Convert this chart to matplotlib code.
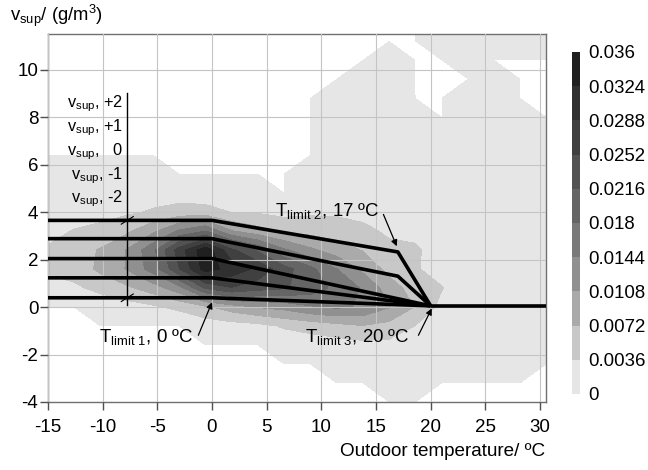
import numpy as np
import matplotlib
matplotlib.use('Agg')
import matplotlib.pyplot as plt
from matplotlib.patches import Rectangle

plt.rcParams['font.family'] = ['Liberation Sans', 'DejaVu Sans']
plt.rcParams['axes.unicode_minus'] = False
plt.rcParams['mathtext.default'] = 'regular'

# ---------------- data ----------------
# grid of outdoor temperature (x) and supply moisture (y) for the density map
temp_grid = [-15.0, -12.6, -10.2, -7.8, -5.4, -3.0, -0.6, 1.8, 4.2, 6.6,
             9.0, 11.4, 13.8, 16.2, 18.6, 21.0, 23.4, 25.8, 28.2, 30.6]
vsup_grid = [-4.0, -3.2, -2.4, -1.6, -0.8, 0.0, 0.8, 1.6, 2.4, 3.2, 4.0,
             4.8, 5.6, 6.4, 7.2, 8.0, 8.8, 9.6, 10.4, 11.2, 12.0]
# density values in units of 1e-3 (rows = vsup_grid, columns = temp_grid)
density_e3 = [
    [0, 0, 0, 0, 0, 0, 0, 0, 0, 0, 0, 0, 0, 0, 0, 0, 0, 0, 0, 0],
    [0, 0, 0, 0, 0, 0, 0, 0, 0, 0, 0, 0, 0, 0.8, 1, 0, 0, 0, 0, 0],
    [0, 0, 0, 0, 0, 0, 0, 0, 0, 0, 0, 1, 1, 1.5, 1.5, 0.8, 0.8, 0.6, 0.5, 0],
    [0, 0, 0, 0, 0, 0, 0, 0, 0, 1.2, 1.5, 2, 2.5, 2.5, 2, 1, 1, 0.8, 0.6, 0.5],
    [0, 0, 0, 0, 0, 0, 1.5, 2, 2.5, 4, 5, 6, 7, 6, 3.5, 1.5, 1, 0.8, 0.6, 0.5],
    [0, 0, 1.5, 2, 3, 4.5, 6.5, 9, 11, 12, 14, 15, 14, 11, 7, 2.5, 1.2, 1, 0.8, 0.6],
    [2.5, 3, 4.5, 6.5, 9, 13, 22, 25, 23, 22, 20, 17, 14, 9, 5.5, 3.8, 1.2, 1, 0.8, 0.6],
    [4, 5, 8, 11, 16, 25, 34, 31, 28, 23, 19, 14.5, 10, 6, 4, 2, 1, 0.8, 0.6, 0.5],
    [4, 5.5, 7.5, 11, 17, 27, 35, 26, 21, 15, 11.5, 9, 7, 4.5, 4.2, 1.5, 1, 0.8, 0.6, 0.5],
    [2.5, 3.8, 4.5, 6.5, 10, 15, 18, 11, 8.5, 6.5, 6, 5.5, 4.5, 3, 2.5, 1.2, 1, 0.8, 0.6, 0.5],
    [1.5, 2, 2.5, 3, 4, 5, 5, 3.5, 3.2, 2.5, 3, 3, 2.5, 2, 1.5, 1, 1, 0.8, 0.6, 0.5],
    [1, 1.2, 1.5, 1.5, 2, 2, 1.5, 1.5, 1.2, 0, 2, 2, 2, 1.5, 1.2, 0.8, 0.8, 0.7, 0.6, 0.5],
    [0.5, 0.6, 0.8, 0.8, 1, 0, 0, 0, 0, 0, 1.5, 1.5, 1.5, 1.2, 1, 0, 0.8, 0.7, 0.6, 0.5],
    [0, 0, 0, 0, 0, 0, 0, 0, 0, 0, 0, 1, 1, 1, 1, 0, 0.8, 0.7, 0.6, 0.5],
    [0, 0, 0, 0, 0, 0, 0, 0, 0, 0, 0, 1, 1, 1, 0.8, 0.5, 0.8, 0.7, 0.5, 0.4],
    [0, 0, 0, 0, 0, 0, 0, 0, 0, 0, 0, 0.8, 1, 1, 0.5, 0, 0.6, 0.6, 0.4, 0],
    [0, 0, 0, 0, 0, 0, 0, 0, 0, 0, 0, 0.5, 0.8, 0.8, 0, 0, 0.5, 0.6, 0, 0],
    [0, 0, 0, 0, 0, 0, 0, 0, 0, 0, 0, 0, 0.5, 0.6, 0, 0, 0, 0.5, 0, 0],
    [0, 0, 0, 0, 0, 0, 0, 0, 0, 0, 0, 0, 0, 0.4, 0, 0, 0.4, 0, 0, 0],
    [0, 0, 0, 0, 0, 0, 0, 0, 0, 0, 0, 0, 0, 0, 0, 0.5, 0.5, 0.5, 0.5, 0.4],
    [0, 0, 0, 0, 0, 0, 0, 0, 0, 0, 0, 0, 0, 0, 0, 0.5, 0.5, 0.5, 0.5, 0.4],
]

# contour levels and colorbar labels
cbar_levels = [0.00001, 0.0036, 0.0072, 0.0108, 0.0144, 0.018,
               0.0216, 0.0252, 0.0288, 0.0324, 0.036]
cbar_labels = ['0', '0.0036', '0.0072', '0.0108', '0.0144', '0.018',
               '0.0216', '0.0252', '0.0288', '0.0324', '0.036']

# control curves
limit_x_upper = [-15, 0, 17, 20]
vsup_plus2 = [3.65, 3.65, 2.32, 0.05]
vsup_plus1 = [2.88, 2.88, 1.30, 0.05]
limit_x_lower = [-15, 0, 20]
vsup_zero = [2.04, 2.04, 0.05]
vsup_minus1 = [1.23, 1.23, 0.05]
vsup_minus2 = [0.39, 0.39, 0.05]
tail_x = [20, 30.6]
tail_y = [0.05, 0.05]

curve_names = ['+2', '+1', '0', '-1', '-2']

xticks = [-15, -10, -5, 0, 5, 10, 15, 20, 25, 30]
yticks = [-4, -2, 0, 2, 4, 6, 8, 10]

# ---------------- figure ----------------
band_colors = ['#e6e6e6', '#c8c8c8', '#aaaaaa', '#909090', '#797979',
               '#656565', '#525252', '#404040', '#303030', '#202020']

fig = plt.figure(figsize=(6.48, 4.70), dpi=100)
ax = fig.add_axes([48/648, 1 - 402/470, 498/648, 368/470])

Z = np.array(density_e3) * 1e-3
cs = ax.contourf(temp_grid, vsup_grid, Z, levels=cbar_levels,
                 colors=band_colors, zorder=1, antialiased=False)

ax.set_xlim(-15, 30.55)
ax.set_ylim(-4, 11.5)
ax.set_xticks(xticks)
ax.set_yticks(yticks)
ax.set_axisbelow(False)
ax.grid(True, color='#c4c4c4', lw=0.8)
for sp in ax.spines.values():
    sp.set_color('#707070')
    sp.set_linewidth(1.0)
ax.tick_params(axis='both', colors='#505050', labelcolor='black',
               labelsize=13.5, width=1.0)
ax.tick_params(axis='x', length=5.5, pad=7)
ax.tick_params(axis='y', length=5.5, pad=1.5)

lw = 2.6
for xs, ys in [(limit_x_upper, vsup_plus2), (limit_x_upper, vsup_plus1),
               (limit_x_lower, vsup_zero), (limit_x_lower, vsup_minus1),
               (limit_x_lower, vsup_minus2), (tail_x, tail_y)]:
    ax.plot(xs, ys, color='black', lw=lw, solid_capstyle='butt', zorder=4)

# vertical bracket line with slashes
vx = -7.75
ax.plot([vx, vx], [0.1, 9.0], color='black', lw=1.0, zorder=4)
for yy in [vsup_plus2[0], vsup_minus2[0]]:
    ax.plot([vx - 0.55, vx + 0.55], [yy - 0.16, yy + 0.16], color='black',
            lw=0.8, zorder=5)

label_y = [8.55, 7.55, 6.55, 5.55, 4.55]
for name, yy in zip(curve_names, label_y):
    suffix = name if name != '0' else '  0'
    ax.text(vx - 0.4, yy, r'$\mathregular{v_{sup}}$, ' + suffix, ha='right',
            va='center', fontsize=11.8, zorder=6)

# annotations
arrow_kw = dict(arrowstyle='-|>', color='black', lw=0.9, mutation_scale=9,
                shrinkA=0, shrinkB=0)
ax.text(-1.7, -1.25, r'$\mathregular{T_{limit\ 1}}$, 0 ºC', ha='right',
        va='center', fontsize=13.4, zorder=6)
ax.annotate('', xy=(0.0, 0.2), xytext=(-1.25, -1.19), arrowprops=arrow_kw,
            zorder=6)
ax.text(5.77, 4.04, r'$\mathregular{T_{limit\ 2}}$, 17 ºC', ha='left',
        va='center', fontsize=13.4, zorder=6)
ax.annotate('', xy=(16.9, 2.56), xytext=(15.68, 3.9), arrowprops=arrow_kw,
            zorder=6)
ax.text(8.5, -1.26, r'$\mathregular{T_{limit\ 3}}$, 20 ºC', ha='left',
        va='center', fontsize=13.4, zorder=6)
ax.annotate('', xy=(20.1, -0.06), xytext=(18.88, -1.19), arrowprops=arrow_kw,
            zorder=6)

# axis labels
fig.text(10/648, 1 - 16/470, r'$\mathregular{v_{sup}}$/ (g/m$^{\mathregular{3}}$)',
         ha='left', va='center', fontsize=13.3)
fig.text(545/648, 1 - 451/470, 'Outdoor temperature/ ºC', ha='right',
         va='center', fontsize=13.6)

# colorbar drawn as overlapping rectangles (no seams)
cax = fig.add_axes([572/648, 1 - 394/470, 8/648, 342/470])
n_bands = len(band_colors)
for k, c in enumerate(band_colors):
    top = k + 1.03 if k < n_bands - 1 else k + 1
    cax.add_patch(Rectangle((0, k), 1, top - k, facecolor=c, edgecolor='none',
                            linewidth=0, antialiased=False))
cax.set_xlim(0, 1)
cax.set_ylim(0, n_bands)
cax.set_xticks([])
cax.yaxis.tick_right()
cax.set_yticks(range(n_bands + 1))
cax.set_yticklabels(cbar_labels)
cax.grid(False)
cax.set_facecolor('none')
for sp in cax.spines.values():
    sp.set_visible(False)
cax.tick_params(length=0, pad=6, labelsize=13.4)

fig.savefig('out.png', dpi=100)
